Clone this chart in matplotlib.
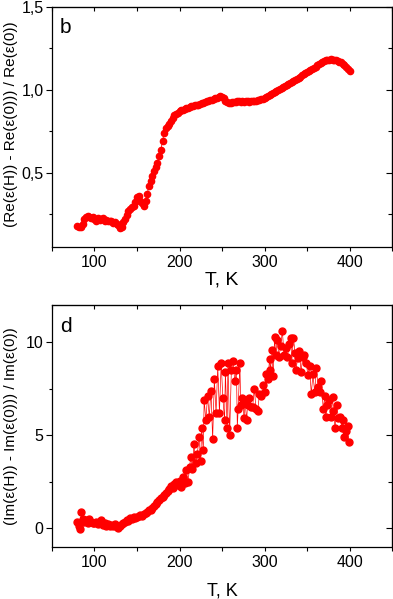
import matplotlib
matplotlib.use("Agg")
import matplotlib.pyplot as plt
from matplotlib.ticker import FuncFormatter

plt.rcParams['font.family'] = ['Liberation Sans', 'DejaVu Sans']

# panel b : (Re(eps(H)) - Re(eps(0))) / Re(eps(0)) vs T
T_re = [80, 82, 84, 86, 88, 90, 92, 94, 96, 98, 100, 102, 104, 106, 108, 110, 112, 114, 116, 118,
        120, 122, 124, 126, 128, 130, 132, 134, 136, 138, 140, 142, 144, 146, 148, 150, 152, 154, 156, 158,
        160, 162, 164, 166, 168, 170, 172, 174, 176, 178, 180, 182, 184, 186, 188, 190, 192, 194, 196, 198,
        200, 202, 204, 206, 208, 210, 212, 214, 216, 218, 220, 222, 224, 226, 228, 230, 232, 234, 236, 238,
        240, 242, 244, 246, 248, 250, 252, 254, 256, 258, 260, 262, 264, 266, 268, 270, 272, 274, 276, 278,
        280, 282, 284, 286, 288, 290, 292, 294, 296, 298, 300, 302, 304, 306, 308, 310, 312, 314, 316, 318,
        320, 322, 324, 326, 328, 330, 332, 334, 336, 338, 340, 342, 344, 346, 348, 350, 352, 354, 356, 358,
        360, 362, 364, 366, 368, 370, 372, 374, 376, 378, 380, 382, 384, 386, 388, 390, 392, 394, 396, 398, 400]
re_val = [0.18, 0.17, 0.17, 0.19, 0.22, 0.23, 0.235, 0.23, 0.225, 0.23, 0.22, 0.21, 0.225, 0.215, 0.22,
          0.225, 0.21, 0.215, 0.21, 0.205, 0.21, 0.195, 0.20, 0.19, 0.185, 0.165, 0.17, 0.20, 0.22, 0.245,
          0.27, 0.28, 0.29, 0.30, 0.32, 0.35, 0.36, 0.33, 0.315, 0.30, 0.33, 0.37, 0.42, 0.45, 0.48,
          0.51, 0.535, 0.56, 0.60, 0.635, 0.69, 0.74, 0.77, 0.78, 0.795, 0.81, 0.83, 0.845, 0.855, 0.86,
          0.87, 0.875, 0.88, 0.885, 0.89, 0.89, 0.895, 0.90, 0.90, 0.905, 0.905, 0.91, 0.915, 0.918, 0.922,
          0.925, 0.93, 0.932, 0.936, 0.938, 0.942, 0.948, 0.952, 0.955, 0.96, 0.958, 0.948, 0.935, 0.925, 0.918,
          0.92, 0.925, 0.928, 0.925, 0.93, 0.932, 0.928, 0.93, 0.926, 0.93, 0.93, 0.928, 0.932, 0.93, 0.932,
          0.935, 0.938, 0.94, 0.945, 0.946, 0.95, 0.955, 0.96, 0.968, 0.972, 0.98, 0.985, 0.99, 0.998, 1.004,
          1.01, 1.016, 1.022, 1.028, 1.034, 1.04, 1.045, 1.052, 1.06, 1.066, 1.073, 1.08, 1.088, 1.095, 1.102,
          1.108, 1.114, 1.12, 1.127, 1.134, 1.14, 1.147, 1.153, 1.16, 1.166, 1.172, 1.177, 1.18, 1.182, 1.183,
          1.182, 1.18, 1.177, 1.174, 1.17, 1.165, 1.158, 1.15, 1.138, 1.125, 1.112]

# panel d : (Im(eps(H)) - Im(eps(0))) / Im(eps(0)) vs T
T_im = [80, 81.5, 83, 84.5, 86, 88, 90, 92, 94, 96, 98, 100, 102, 104, 106, 108, 110, 112, 114, 116,
        118, 120, 122, 124, 126, 128, 130, 132, 134, 136, 138, 140, 142, 144, 146, 148, 150, 152, 154, 156,
        158, 160, 162, 164, 166, 168, 170, 172, 174, 176, 178, 180, 182, 184, 186, 188, 190, 192, 194, 196,
        198, 200, 202, 204, 206, 208, 210, 212, 213, 215, 217, 219, 221, 223, 225, 226, 228, 229, 231, 233,
        235, 237, 239, 241, 243, 245, 247, 249, 251, 253, 254, 256, 257, 259, 261, 263, 265, 267, 268, 269,
        271, 272, 274, 276, 277, 279, 280, 282, 284, 286, 288, 290, 292, 294, 296, 298, 300, 302, 304, 306,
        307, 309, 310, 312, 313, 315, 317, 319, 321, 323, 325, 327, 329, 331, 332, 334, 336, 337, 339, 341,
        343, 345, 347, 349, 351, 353, 355, 357, 359, 361, 363, 365, 367, 369, 371, 372, 374, 376, 378, 380,
        381, 383, 385, 387, 389, 391, 392, 394, 396, 398, 399]
im_val = [0.35, 0.1, -0.05, 0.85, 0.5, 0.35, 0.45, 0.3, 0.5, 0.35, 0.3, 0.25, 0.35, 0.2, 0.3, 0.45, 0.15,
          0.25, 0.1, 0.2, 0.1, 0.15, 0.1, 0.2, 0.05, 0.0, 0.1, 0.2, 0.3, 0.35, 0.45, 0.4, 0.55, 0.5, 0.6,
          0.55, 0.6, 0.65, 0.7, 0.65, 0.75, 0.8, 0.85, 0.95, 1.0, 1.1, 1.2, 1.3, 1.4, 1.5, 1.6, 1.7, 1.8,
          1.9, 2.0, 2.1, 2.25, 2.15, 2.35, 2.5, 2.3, 2.55, 2.2, 2.75, 2.4, 3.1, 2.5, 3.3, 3.8, 3.2, 4.5,
          3.5, 4.0, 4.9, 3.6, 5.4, 4.2, 6.9, 5.8, 7.1, 6.0, 7.4, 4.8, 8.0, 6.2, 8.7, 6.2, 8.9, 7.0, 5.8,
          8.4, 5.4, 8.9, 5.0, 8.5, 9.0, 7.9, 8.5, 5.4, 6.4, 8.9, 6.6, 7.0, 5.9, 6.9, 5.8, 6.6, 7.0, 6.5,
          6.5, 7.5, 6.4, 6.3, 7.2, 7.1, 7.7, 7.3, 8.3, 8.0, 9.1, 8.5, 9.6, 8.2, 10.3, 9.3, 10.1, 9.2, 9.8,
          10.6, 9.3, 9.7, 9.2, 9.9, 10.25, 8.9, 10.25, 9.4, 8.5, 9.15, 9.5, 8.4, 9.2, 9.3, 8.9, 8.25, 8.7,
          7.2, 8.3, 7.3, 8.6, 7.6, 7.3, 7.9, 6.4, 7.1, 6.0, 6.6, 6.9, 6.0, 7.05, 6.3, 5.4, 6.6, 5.9, 6.0,
          5.4, 5.8, 4.9, 5.2, 5.5, 4.65]

comma = FuncFormatter(lambda v, p: ("%.1f" % v).replace(".", ","))


def style_axes(ax, yticks, yminor):
    ax.set_xlim(50, 450)
    ax.set_xticks([100, 200, 300, 400])
    ax.set_xticks([50, 150, 250, 350, 450], minor=True)
    ax.set_yticks(yticks)
    ax.set_yticks(yminor, minor=True)
    ax.tick_params(which='major', direction='out', length=4, width=0.8, labelsize=11.5, pad=2)
    ax.tick_params(which='minor', direction='out', length=2.5, width=0.8)
    ax.tick_params(axis='x', which='major', length=3, pad=3)
    ax.tick_params(axis='x', which='minor', length=3)
    for s in ax.spines.values():
        s.set_linewidth(0.9)
    top = ax.secondary_xaxis('top')
    top.set_xticks([100, 200, 300, 400])
    top.set_xticks([50, 150, 250, 350, 450], minor=True)
    top.tick_params(which='both', direction='in', length=3, width=0.8, labeltop=False)
    right = ax.secondary_yaxis('right')
    right.set_yticks(yticks)
    right.set_yticks(yminor, minor=True)
    right.tick_params(which='major', direction='in', length=4, width=0.8, labelright=False)
    right.tick_params(which='minor', direction='in', length=3, width=0.8)


fig = plt.figure(figsize=(3.93, 5.99), dpi=100)

ax1 = fig.add_axes([0.1323, 0.5876, 0.8652, 0.4007])
ax1.plot(T_re, re_val, '-', color='#ff0000', lw=0.6, marker='o', ms=4.5, mec='#ff0000', mfc='#ff0000')
ax1.set_ylim(0.05, 1.5)
style_axes(ax1, [0.5, 1.0, 1.5], [0.25, 0.75, 1.25])
ax1.yaxis.set_major_formatter(comma)
ax1.set_xlabel('T, K', fontsize=14)
ax1.xaxis.set_label_coords(0.5, -0.104)
ax1.set_ylabel('(Re(ε(H)) - Re(ε(0))) / Re(ε(0))', fontsize=11)
ax1.yaxis.set_label_coords(-0.10, 0.51)
ax1.text(0.024, 0.955, 'b', transform=ax1.transAxes, fontsize=15, va='top', ha='left')

ax2 = fig.add_axes([0.1323, 0.0873, 0.8652, 0.4035])
ax2.plot(T_im, im_val, '-', color='#ff0000', lw=0.5, marker='o', ms=5, mec='#ff0000', mfc='#ff0000')
ax2.set_ylim(-1, 12)
style_axes(ax2, [0, 5, 10], [2.5, 7.5])
ax2.set_xlabel('T, K', fontsize=13)
ax2.xaxis.set_label_coords(0.5, -0.15)
ax2.set_ylabel('(Im(ε(H)) - Im(ε(0))) / Im(ε(0))', fontsize=11)
ax2.yaxis.set_label_coords(-0.10, 0.5)
ax2.text(0.024, 0.95, 'd', transform=ax2.transAxes, fontsize=15, va='top', ha='left')

fig.savefig('out.png', dpi=100)
